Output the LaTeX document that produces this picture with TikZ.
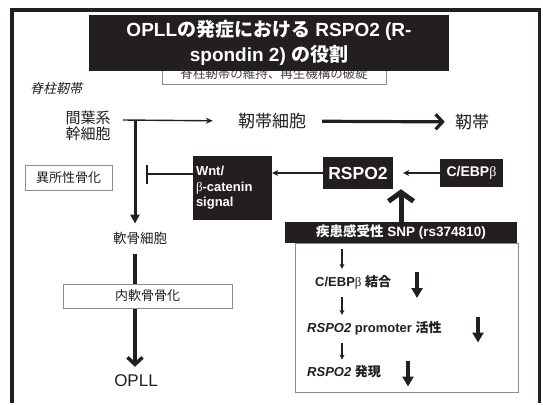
\documentclass[tikz,border=0pt]{standalone}
\usepackage{fontspec}
\setmainfont{Liberation Sans}
\newfontfamily\jpfont{Noto Sans CJK JP}
\newfontfamily\jpslant[FakeSlant=0.22]{Noto Sans CJK JP}
\newfontfamily\grkfont{Liberation Serif}
\newcommand{\jp}[1]{{\jpfont #1}}
\newcommand{\bet}{{\grkfont\mdseries β}}
\usetikzlibrary{arrows.meta,positioning}
\definecolor{ink}{HTML}{231F20}
\definecolor{rim}{HTML}{8C8C8C}

\begin{document}
\begin{tikzpicture}[x=1pt,y=-1pt,
  dark/.style={fill=ink,text=white,inner sep=0pt},
  gbox/.style={draw=rim,fill=white,line width=0.9pt,inner sep=0pt,text=ink},
  plain/.style={text=ink,inner sep=2pt},
  lnk/.style={-{Stealth[length=7pt,width=6pt]},line width=1.4pt,draw=ink},
  mid/.style={-{Stealth[length=6pt,width=6pt]},line width=2pt,draw=ink},
  fat/.style={-{Triangle[length=9pt,width=9pt]},line width=3pt,draw=ink},
  barb/.style={-{Straight Barb[length=7pt,width=15pt]},line width=3.2pt,draw=ink},
  big/.style={-{Straight Barb[length=9pt,width=25pt]},line width=5pt,draw=ink},
  inh/.style={-{Bar[width=19pt]},line width=2.2pt,draw=ink},
  sml/.style={-{Stealth[length=5pt,width=5pt]},line width=1.2pt,draw=ink,shorten <=6pt,shorten >=4pt},
  dwn/.style={-{Triangle[length=10pt,width=11pt]},line width=3.4pt,draw=ink}]
  \fill[white](0,0) rectangle (543,403);
  % slide frame, open at the bottom
  \draw[ink,line width=3.6pt](12,403)--(12,10)--(539.5,10)--(539.5,403);
  \node[gbox,minimum width=224pt,minimum height=21pt,text=ink!85,font=\fontsize{12.5}{14}\selectfont\jpfont](goal) at (274,74){脊柱靭帯の維持、再生機構の破綻};
  \node[dark,minimum width=360pt,minimum height=56pt,align=center,font=\fontsize{19}{25}\selectfont\bfseries](title) at (269,43){OPLL\jp{の発症における} RSPO2 (R-\\spondin 2) \jp{の役割}};
  \node[plain,font=\fontsize{13}{15}\selectfont\jpslant](spine) at (56,89){脊柱靭帯};
  \node[plain,align=center,font=\fontsize{15}{16}\selectfont\jpfont](msc) at (88,126){間葉系\\幹細胞};
  \coordinate (split) at (135,120);
  \node[plain,font=\fontsize{17}{18}\selectfont\jpfont](lcell) at (272,121){靭帯細胞};
  \node[plain,font=\fontsize{17}{18}\selectfont\jpfont](lig) at (472,122){靭帯};
  \node[plain,font=\fontsize{13.5}{15}\selectfont\jpfont](chon) at (140,238){軟骨細胞};
  \node[plain,font=\fontsize{17}{18}\selectfont](opll) at (136,381){OPLL};
  \node[gbox,minimum width=87pt,minimum height=25pt,font=\fontsize{13}{15}\selectfont\jpfont](ecto) at (68.5,177.5){異所性骨化};
  % main differentiation path
  \draw[lnk,shorten >=23pt]([xshift=-12pt]split)--(lcell.west);
  \draw[fat,shorten >=6pt](split)--(split|-chon.north);
  \draw[barb,shorten <=14pt,shorten >=8pt](lcell)--(lig);
  \draw[barb,line width=3.5pt,shorten <=8pt,shorten >=6pt](split|-chon.south)--(split|-opll.north);
  \node[gbox,minimum width=169pt,minimum height=24pt,font=\fontsize{13}{15}\selectfont\jpfont](endo) at (147.5,296){内軟骨骨化};
  % signalling
  \node[dark,minimum width=79pt,minimum height=64pt,text width=73pt,align=left,font=\fontsize{13}{15.5}\selectfont\bfseries](wnt) at (232.5,188){Wnt/\\\bet-catenin\\signal};
  \node[dark,minimum width=70pt,minimum height=32pt,font=\fontsize{17.5}{19}\selectfont\bfseries](rspo) at (358,173){RSPO2};
  \node[dark,minimum width=63pt,minimum height=28pt,font=\fontsize{14}{16}\selectfont\bfseries](cebp) at (471.5,173){C/EBP\bet};
  \coordinate (stop) at (146,174);
  \draw[mid](rspo.west)--(rspo.west-|wnt.east);
  \draw[mid,shorten >=10pt](cebp.west)--(rspo.east);
  \draw[inh](stop-|wnt.west)--(stop);
  % SNP panel
  \node[gbox,minimum width=223pt,minimum height=149pt](panel) at (406.5,317.5){};
  \node[dark,minimum width=232pt,minimum height=21pt,font=\fontsize{13.5}{15}\selectfont\bfseries](snp) at (401,232.5){\jp{疾患感受性} SNP (rs374810)};
  \draw[big](snp.north)--(snp.north|-rspo.south);
  \node[plain,anchor=west,font=\fontsize{13}{15}\selectfont\bfseries](bind) at (313,282){C/EBP\bet\ \jp{結合}};
  \node[plain,anchor=west,font=\fontsize{13}{15}\selectfont\bfseries](prom) at (305,328){\textit{RSPO2} promoter \jp{活性}};
  \node[plain,anchor=west,font=\fontsize{13}{15}\selectfont\bfseries](expr) at (305,372){\textit{RSPO2} \jp{発現}};
  \coordinate (col) at (342,0);
  \draw[sml](snp.south-|col)--(bind.north-|col);
  \draw[sml](bind.south-|col)--(prom.north-|col);
  \draw[sml](prom.south-|col)--(expr.north-|col);
  % decrease marks
  \coordinate (d1) at (417,285);
  \coordinate (d2) at (478,329.5);
  \coordinate (d3) at (408,373.5);
  \draw[dwn]([yshift=13pt]d1)--([yshift=-13pt]d1);
  \draw[dwn]([yshift=13pt]d2)--([yshift=-13pt]d2);
  \draw[dwn]([yshift=13pt]d3)--([yshift=-13pt]d3);
\end{tikzpicture}
\end{document}
